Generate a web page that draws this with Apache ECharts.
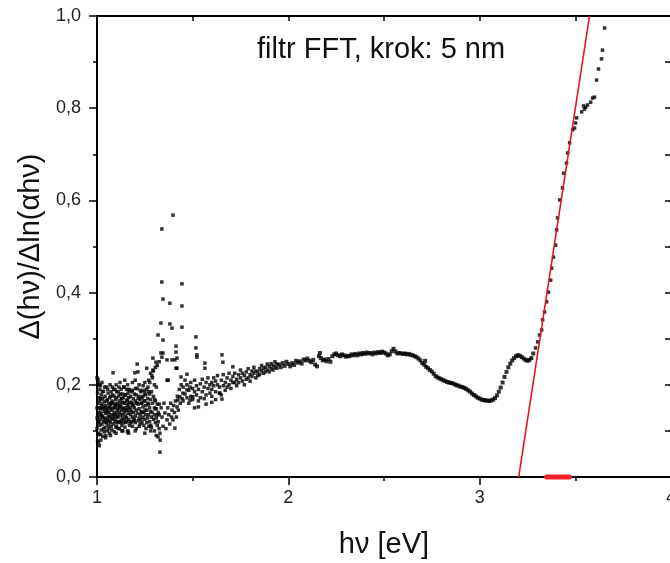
<!DOCTYPE html>
<html>
<head>
<meta charset="utf-8">
<script src="https://cdn.jsdelivr.net/npm/echarts@6/dist/echarts.min.js"></script>
<style>
html,body{margin:0;padding:0;background:#fff;overflow:hidden;}
#chart{width:670px;height:563px;}
</style>
</head>
<body>
<div id="chart"></div>
<script>
// Data: [hv (eV), Δ(hν)/Δln(αhν)]
var noisyCloud = [
[1.000,0.215],[1.000,0.150],[1.000,0.105],[1.001,0.128],
[1.003,0.182],[1.003,0.128],[1.003,0.078],[1.004,0.200],
[1.005,0.212],[1.008,0.075],
[1.006,0.205],[1.006,0.160],[1.006,0.118],[1.007,0.092],
[1.009,0.140],[1.009,0.095],[1.009,0.172],[1.010,0.120],
[1.012,0.200],[1.012,0.133],[1.012,0.068],[1.013,0.150],
[1.015,0.165],[1.015,0.112],[1.015,0.190],[1.016,0.140],
[1.018,0.198],[1.020,0.080],
[1.019,0.148],[1.019,0.092],[1.019,0.125],[1.020,0.170],
[1.022,0.178],[1.022,0.137],[1.022,0.102],[1.023,0.155],
[1.026,0.158],[1.026,0.115],[1.026,0.205],[1.027,0.132],
[1.028,0.185],
[1.030,0.130],[1.030,0.088],[1.030,0.170],[1.031,0.148],
[1.034,0.152],[1.034,0.120],[1.034,0.186],[1.035,0.105],
[1.038,0.142],[1.038,0.098],[1.038,0.163],[1.039,0.125],
[1.040,0.195],
[1.042,0.175],[1.042,0.128],[1.042,0.108],[1.043,0.150],
[1.045,0.085],
[1.046,0.155],[1.046,0.090],[1.046,0.138],[1.047,0.118],
[1.050,0.195],[1.050,0.145],[1.050,0.118],[1.051,0.165],
[1.054,0.168],[1.054,0.125],[1.054,0.100],[1.055,0.142],
[1.056,0.190],
[1.058,0.150],[1.058,0.112],[1.058,0.182],[1.059,0.132],
[1.062,0.140],[1.062,0.105],[1.062,0.160],[1.063,0.122],
[1.066,0.172],[1.066,0.130],[1.066,0.095],[1.067,0.152],
[1.068,0.200],
[1.070,0.158],[1.070,0.118],[1.070,0.148],[1.071,0.175],
[1.070,0.090],
[1.074,0.185],[1.074,0.135],[1.074,0.110],[1.075,0.160],
[1.078,0.145],[1.078,0.102],[1.078,0.165],[1.079,0.125],
[1.080,0.195],
[1.082,0.162],[1.082,0.128],[1.082,0.178],[1.084,0.226],
[1.086,0.150],[1.086,0.115],[1.086,0.135],[1.087,0.190],
[1.090,0.175],[1.090,0.140],[1.090,0.098],[1.091,0.158],
[1.094,0.190],[1.094,0.132],[1.094,0.120],[1.095,0.150],
[1.098,0.155],[1.098,0.125],[1.098,0.168],[1.099,0.108],
[1.100,0.200],[1.100,0.095],
[1.102,0.172],[1.102,0.138],[1.102,0.110],[1.103,0.185],
[1.106,0.160],[1.106,0.145],[1.106,0.118],[1.107,0.132],
[1.110,0.185],[1.110,0.130],[1.110,0.155],[1.111,0.105],
[1.114,0.148],[1.114,0.120],[1.114,0.176],[1.115,0.195],
[1.118,0.165],[1.118,0.140],[1.118,0.105],[1.119,0.152],
[1.120,0.205],
[1.122,0.180],[1.122,0.135],[1.122,0.158],[1.123,0.118],
[1.126,0.152],[1.126,0.122],[1.126,0.190],[1.127,0.170],
[1.130,0.170],[1.130,0.112],[1.130,0.145],[1.131,0.128],
[1.130,0.100],
[1.134,0.162],[1.134,0.135],[1.134,0.180],[1.135,0.100],
[1.138,0.148],[1.138,0.118],[1.138,0.172],[1.139,0.195],
[1.142,0.195],[1.142,0.140],[1.142,0.125],[1.143,0.160],
[1.145,0.210],
[1.146,0.160],[1.146,0.108],[1.146,0.150],[1.147,0.178],
[1.150,0.178],[1.150,0.132],[1.150,0.118],[1.151,0.145],
[1.154,0.190],[1.154,0.145],[1.154,0.128],[1.155,0.165],
[1.158,0.168],[1.158,0.120],[1.158,0.155],[1.159,0.098],
[1.160,0.200],
[1.162,0.182],[1.162,0.138],[1.162,0.100],[1.163,0.150],
[1.165,0.095],
[1.166,0.158],[1.166,0.125],[1.166,0.172],[1.167,0.190],
[1.170,0.145],[1.170,0.112],[1.170,0.188],[1.171,0.162],
[1.175,0.175],[1.175,0.135],[1.175,0.150],[1.176,0.118],
[1.180,0.162],[1.180,0.120],[1.180,0.142],[1.181,0.185],
[1.185,0.188],[1.185,0.130],[1.185,0.110],[1.186,0.158],
[1.185,0.205],
[1.190,0.170],[1.190,0.140],[1.190,0.155],[1.191,0.122],
[1.195,0.150],[1.195,0.125],[1.195,0.180],[1.198,0.226],
[1.200,0.165],[1.200,0.132],[1.200,0.118],[1.201,0.192],
[1.200,0.210],[1.200,0.100],
[1.205,0.178],[1.205,0.145],[1.205,0.105],[1.206,0.160],
[1.210,0.192],[1.210,0.138],[1.210,0.160],[1.210,0.245],
[1.214,0.228],[1.215,0.158],[1.215,0.122],[1.215,0.170],
[1.220,0.175],[1.220,0.128],[1.220,0.148],[1.221,0.110],
[1.220,0.200],
[1.225,0.168],[1.225,0.135],[1.225,0.115],[1.226,0.188],
[1.230,0.185],[1.230,0.142],[1.230,0.125],[1.231,0.160],
[1.235,0.160],[1.235,0.118],[1.235,0.172],[1.236,0.140],
[1.240,0.175],[1.240,0.130],[1.240,0.152],[1.241,0.198],
[1.245,0.188],[1.245,0.140],[1.245,0.112],[1.246,0.165],
[1.250,0.165],[1.250,0.125],[1.250,0.182],[1.251,0.145],
[1.250,0.205],[1.250,0.095],
[1.255,0.178],[1.255,0.135],[1.255,0.155],[1.256,0.105],
[1.260,0.190],[1.260,0.145],[1.260,0.118],[1.260,0.236],
[1.265,0.170],[1.265,0.128],[1.265,0.160],[1.266,0.195],
[1.270,0.158],[1.270,0.135],[1.270,0.185],[1.271,0.110],
[1.270,0.210],
[1.275,0.180],[1.275,0.120],[1.275,0.150],[1.276,0.205],
[1.280,0.168],[1.280,0.142],[1.280,0.225],[1.281,0.112],
[1.280,0.100],
[1.285,0.185],[1.285,0.130],[1.285,0.108],[1.287,0.220],
[1.290,0.160],[1.290,0.140],[1.290,0.215],[1.292,0.232],
[1.292,0.258],[1.295,0.175],[1.295,0.125],[1.295,0.230],
[1.300,0.150],[1.300,0.135],[1.300,0.100],[1.301,0.168],
[1.300,0.200],
[1.305,0.165],[1.305,0.118],[1.305,0.238],[1.306,0.148],
[1.308,0.249],[1.310,0.148],[1.310,0.128],[1.310,0.090],
[1.310,0.195],
[1.315,0.158],[1.315,0.112],[1.315,0.242],[1.316,0.135],
[1.319,0.308],[1.319,0.087],[1.320,0.140],[1.320,0.120],
[1.325,0.135],[1.325,0.105],[1.325,0.250],[1.326,0.158],
[1.329,0.054],[1.329,0.095],[1.330,0.080]
];
var spikeRegion = [
[1.334,0.334],[1.334,0.269],[1.335,0.150],[1.339,0.538],[1.339,0.423],
[1.339,0.260],[1.340,0.130],[1.345,0.386],[1.345,0.297],[1.345,0.269],
[1.345,0.110],[1.350,0.160],[1.355,0.139],[1.360,0.105],[1.366,0.254],
[1.366,0.210],[1.366,0.124],[1.370,0.150],[1.372,0.210],[1.375,0.135],
[1.380,0.115],[1.381,0.377],[1.381,0.332],[1.385,0.160],[1.390,0.130],
[1.392,0.323],[1.392,0.254],[1.392,0.145],[1.397,0.568],[1.397,0.124],
[1.400,0.155],[1.405,0.140],[1.407,0.254],[1.407,0.106],[1.410,0.165],
[1.413,0.284],[1.413,0.271],[1.413,0.236],[1.415,0.130],[1.418,0.258],
[1.418,0.236],[1.418,0.152],[1.420,0.175],[1.423,0.167],[1.425,0.145],
[1.430,0.190],[1.433,0.174],[1.435,0.160],[1.439,0.217],[1.440,0.200],
[1.444,0.419],[1.444,0.371],[1.444,0.325],[1.445,0.170],[1.449,0.182],
[1.470,0.223],[1.470,0.189],[1.486,0.167],[1.486,0.195],[1.501,0.174],
[1.517,0.304],[1.517,0.280],[1.522,0.265],[1.522,0.260],[1.564,0.247],
[1.564,0.236],[1.642,0.182],[1.653,0.169],[1.653,0.265],[1.658,0.249],
[1.530,0.152],[1.570,0.158],[1.600,0.162],[1.620,0.168],[1.710,0.239]
];
var risingBand = [
[1.45,0.195],[1.45,0.165],[1.46,0.180],[1.46,0.210],[1.47,0.172],[1.47,0.200],
[1.48,0.188],[1.48,0.160],[1.49,0.205],[1.49,0.175],[1.50,0.168],[1.50,0.192],
[1.51,0.185],[1.51,0.210],[1.51,0.150],[1.52,0.178],[1.52,0.198],[1.53,0.190],
[1.53,0.165],[1.54,0.202],[1.54,0.172],[1.55,0.185],[1.55,0.212],[1.56,0.195],
[1.56,0.170],[1.57,0.178],[1.57,0.205],[1.58,0.192],[1.58,0.215],[1.59,0.182],
[1.59,0.200],[1.60,0.205],[1.60,0.175],[1.60,0.190],[1.61,0.198],[1.61,0.215],
[1.62,0.185],[1.62,0.208],[1.63,0.200],[1.63,0.220],[1.64,0.182],[1.64,0.195],
[1.65,0.210],[1.65,0.178],[1.66,0.198],[1.66,0.222],[1.67,0.205],[1.67,0.188],
[1.68,0.215],[1.68,0.195],[1.69,0.200],[1.69,0.225],[1.70,0.210],[1.70,0.192],
[1.71,0.218],[1.71,0.205],[1.72,0.205],[1.72,0.225],[1.73,0.212],[1.73,0.198],
[1.74,0.222],[1.74,0.205],[1.75,0.215],[1.75,0.232],[1.76,0.208],[1.76,0.225],
[1.77,0.220],[1.77,0.200],[1.78,0.228],[1.78,0.212],[1.79,0.215],[1.79,0.235],
[1.80,0.222],[1.80,0.208],[1.81,0.230],[1.81,0.218],[1.82,0.225],[1.82,0.238],
[1.83,0.215],[1.83,0.230],[1.84,0.228],[1.84,0.220],[1.85,0.235],[1.85,0.222],
[1.86,0.230],[1.86,0.242],[1.87,0.225],[1.87,0.236],[1.88,0.238],[1.88,0.228],
[1.89,0.232],[1.89,0.245],[1.90,0.240],[1.90,0.228],[1.91,0.235],[1.91,0.246],
[1.92,0.242],[1.92,0.232],[1.93,0.238],[1.93,0.250],[1.94,0.245],[1.94,0.236]
];
var smoothCurve = [
[1.95,0.244],[1.96,0.238],[1.97,0.247],[1.98,0.241],[1.99,0.250],[2.00,0.245],
[2.01,0.240],[2.02,0.247],[2.03,0.243],[2.04,0.252],[2.05,0.248],[2.06,0.251],
[2.07,0.246],[2.08,0.255],[2.09,0.253],[2.10,0.257],[2.11,0.252],[2.12,0.249],
[2.13,0.254],[2.14,0.244],[2.15,0.240],[2.16,0.262],[2.165,0.269],[2.17,0.258],
[2.18,0.253],[2.19,0.255],[2.20,0.251],[2.21,0.256],[2.22,0.250],[2.23,0.262],
[2.24,0.266],[2.25,0.268],[2.26,0.264],[2.27,0.262],[2.28,0.266],[2.29,0.264],
[2.30,0.261],[2.31,0.263],[2.32,0.262],[2.33,0.266],[2.34,0.264],[2.35,0.267],
[2.36,0.264],[2.37,0.268],[2.38,0.266],[2.39,0.269],[2.40,0.267],[2.41,0.270],
[2.42,0.268],[2.43,0.269],[2.44,0.266],[2.45,0.270],[2.46,0.268],[2.47,0.271],
[2.48,0.269],[2.49,0.272],[2.50,0.270],[2.51,0.268],[2.52,0.264],[2.53,0.266],
[2.54,0.273],[2.55,0.278],[2.56,0.272],[2.57,0.268],[2.58,0.269],[2.59,0.268],
[2.60,0.267],[2.61,0.268],[2.62,0.266],[2.63,0.267],[2.64,0.265],[2.65,0.264],
[2.66,0.262],[2.67,0.260],[2.68,0.257],[2.69,0.253],[2.70,0.247],[2.71,0.244],
[2.715,0.252],[2.72,0.239],[2.73,0.236],[2.74,0.232],[2.75,0.229],[2.76,0.224],
[2.77,0.219],[2.78,0.216],[2.79,0.214],[2.80,0.212],[2.81,0.210],[2.82,0.208],
[2.83,0.206],[2.84,0.205],[2.85,0.204],[2.86,0.203],[2.87,0.201],[2.88,0.199],
[2.89,0.198],[2.90,0.196],[2.91,0.195],[2.92,0.193],[2.93,0.191],[2.94,0.188],
[2.95,0.185],[2.96,0.181],[2.97,0.178],[2.98,0.175],[2.99,0.172],[3.00,0.170],
[3.01,0.168],[3.02,0.167],[3.03,0.166],[3.04,0.166],[3.05,0.165],[3.06,0.166],
[3.07,0.168],[3.08,0.171],[3.09,0.177],[3.10,0.185],[3.11,0.194],[3.12,0.205],
[3.13,0.217],[3.14,0.228],[3.15,0.238],[3.16,0.246],[3.17,0.253],[3.18,0.258],
[3.19,0.262],[3.20,0.264],[3.21,0.263],[3.22,0.260],[3.23,0.257],[3.24,0.254],
[3.25,0.252],[3.26,0.254],[3.27,0.258],[3.28,0.268]
];
var absorptionEdge = [
[3.292,0.280],[3.303,0.293],[3.313,0.308],[3.324,0.319],[3.329,0.341],[3.339,0.358],
[3.350,0.380],[3.360,0.401],[3.371,0.427],[3.376,0.453],[3.386,0.477],[3.397,0.503],
[3.402,0.536],[3.407,0.562],[3.418,0.601],[3.433,0.627],[3.439,0.659],[3.454,0.681],
[3.460,0.703],[3.470,0.725],[3.486,0.753],[3.496,0.757],[3.501,0.768],[3.507,0.779],
[3.533,0.792],[3.543,0.805],[3.548,0.798],[3.554,0.802],[3.564,0.807],[3.580,0.813],
[3.590,0.822],[3.600,0.824],[3.611,0.861],[3.621,0.885],[3.637,0.907],[3.642,0.926],
[3.653,0.974]
];
var tangentLine = [[3.204,0.0],[3.574,1.0]];
var fitRange = [[3.35,0.0],[3.47,0.0]];
var xTicks = [1, 2, 3, 4];
var yTicks = [0, 0.2, 0.4, 0.6, 0.8, 1.0];

var FONT = 'Liberation Sans, Arial, sans-serif';
var chart = echarts.init(document.getElementById('chart'), null, {renderer:'canvas'});
function dots(name, data, size){
  return {name:name, type:'scatter', data:data, symbol:'rect', symbolSize:size,
          itemStyle:{color:'#000'}, xAxisIndex:0, yAxisIndex:0, silent:true};
}
var option = {
  animation:false,
  backgroundColor:'#fff',
  title:{text:'filtr FFT, krok: 5 nm', left:257, top:35, padding:0,
         textStyle:{fontFamily:FONT, fontSize:29, fontWeight:'normal', color:'#111'}},
  grid:{left:97, top:16, width:574, height:461, containLabel:false, outerBoundsMode:'none'},
  xAxis:[
    {type:'value', position:'bottom', min:xTicks[0], max:xTicks[xTicks.length-1], interval:1,
     axisLine:{show:true, onZero:false, lineStyle:{color:'#000', width:2}},
     axisTick:{show:true, inside:false, length:8, lineStyle:{color:'#000', width:1.5}},
     minorTick:{show:true, splitNumber:2, length:4, lineStyle:{color:'#000', width:1.5}},
     splitLine:{show:false}, minorSplitLine:{show:false},
     axisLabel:{fontFamily:FONT, fontSize:18, color:'#222', margin:12},
     name:'hν [eV]', nameLocation:'middle', nameGap:53,
     nameTextStyle:{fontFamily:FONT, fontSize:29, color:'#111'}},
    {type:'value', position:'top', min:1, max:4, interval:0.5,
     axisLine:{show:true, onZero:false, lineStyle:{color:'#000', width:2}},
     axisTick:{show:true, inside:true, length:5, lineStyle:{color:'#000', width:1.5}},
     axisLabel:{show:false}, splitLine:{show:false}}
  ],
  yAxis:[
    {type:'value', position:'left', min:yTicks[0], max:yTicks[yTicks.length-1], interval:0.2,
     axisLine:{show:true, onZero:false, lineStyle:{color:'#000', width:2}},
     axisTick:{show:true, inside:false, length:8, lineStyle:{color:'#000', width:1.5}},
     minorTick:{show:true, splitNumber:2, length:4, lineStyle:{color:'#000', width:1.5}},
     splitLine:{show:false}, minorSplitLine:{show:false},
     axisLabel:{fontFamily:FONT, fontSize:18, color:'#222', margin:16,
       formatter:function(v){return v.toFixed(1).replace('.', ',');}},
     name:'Δ(hν)/Δln(αhν)', nameLocation:'middle', nameRotate:90, nameGap:47,
     nameTextStyle:{fontFamily:FONT, fontSize:29, color:'#111'}},
    {type:'value', position:'right', min:0, max:1, interval:0.1,
     axisLine:{show:true, onZero:false, lineStyle:{color:'#000', width:2}},
     axisTick:{show:true, inside:true, length:6, lineStyle:{color:'#000', width:1.5}},
     axisLabel:{show:false}, splitLine:{show:false}}
  ],
  series:[
    dots('noisyCloud', noisyCloud, 3.5),
    dots('spikeRegion', spikeRegion, 3.5),
    dots('risingBand', risingBand, 3.5),
    dots('smoothCurve', smoothCurve, 4),
    dots('absorptionEdge', absorptionEdge, 3.5),
    {name:'tangent', type:'line', data:tangentLine, showSymbol:false, symbol:'none',
     lineStyle:{color:'#e3161b', width:1.6}, xAxisIndex:0, yAxisIndex:0, z:5, silent:true},
    {name:'fitRange', type:'line', data:fitRange, showSymbol:false, symbol:'none', clip:false,
     lineStyle:{color:'#f0202a', width:5, cap:'round'}, xAxisIndex:0, yAxisIndex:0, z:6, silent:true}
  ]
};
chart.setOption(option);
</script>
</body>
</html>
